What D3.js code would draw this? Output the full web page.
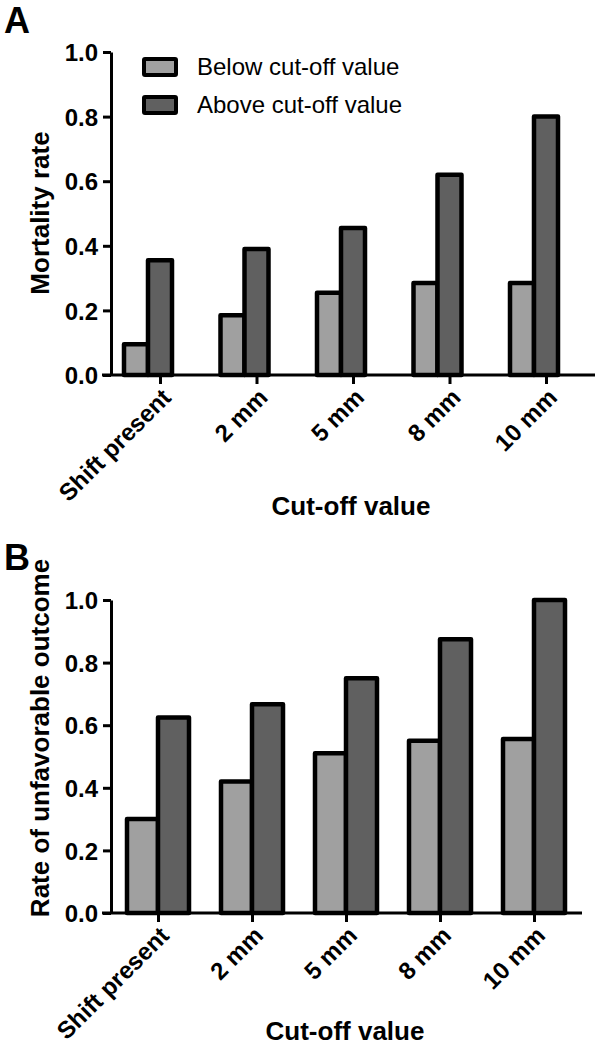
<!DOCTYPE html>
<html>
<head>
<meta charset="utf-8">
<script src="https://cdn.jsdelivr.net/npm/d3@7"></script>
<style>
  html, body { margin: 0; padding: 0; background: #fff; }
  svg { display: block; font-family: "Liberation Sans", Arial, sans-serif; }
</style>
</head>
<body>
<svg id="chart" width="600" height="1049"></svg>
<script>
// ---- data ----
const categories = ["Shift present", "2 mm", "5 mm", "8 mm", "10 mm"];
const seriesNames = ["Below cut-off value", "Above cut-off value"];
const mortalityBelow = [0.095, 0.185, 0.255, 0.285, 0.285];
const mortalityAbove = [0.355, 0.39, 0.455, 0.62, 0.80];
const unfavorableBelow = [0.30, 0.42, 0.51, 0.55, 0.556];
const unfavorableAbove = [0.625, 0.667, 0.75, 0.875, 1.0];
const yTicks = [0.0, 0.2, 0.4, 0.6, 0.8, 1.0];

const colors = ["#a0a0a0", "#606060"];
const svg = d3.select("#chart");

function panel(opts) {
  const g = svg.append("g");
  const x = d3.scalePoint().domain(categories).range([opts.x0, opts.x1]);
  const y = d3.scaleLinear().domain([0, 1]).range([opts.yBottom, opts.yTop]);

  // bars
  const series = [opts.below, opts.above];
  series.forEach((vals, si) => {
    g.selectAll(null).data(categories).enter().append("rect")
      .attr("x", d => x(d) + opts.offsets[si][0])
      .attr("width", opts.offsets[si][1] - opts.offsets[si][0])
      .attr("y", (d, i) => y(vals[i]))
      .attr("height", (d, i) => y(0) - y(vals[i]))
      .attr("fill", colors[si])
      .attr("stroke", "#000")
      .attr("stroke-width", 4.5)
      .attr("stroke-linejoin", "round");
  });

  // y axis
  const yAxis = g.append("g").attr("transform", `translate(${opts.yAxisX},0)`)
    .call(d3.axisLeft(y).tickValues(yTicks).tickFormat(d3.format(".1f")).tickSize(8).tickSizeOuter(0));
  yAxis.select(".domain").attr("stroke-width", 3);
  yAxis.selectAll(".tick line").attr("stroke-width", 3);
  yAxis.selectAll(".tick text").attr("font-size", 24).attr("font-weight", "bold")
    .attr("font-family", "Liberation Sans, Arial, sans-serif").attr("fill", "#000").attr("x", -13).attr("dy", "0.36em");

  // x axis
  const xAxis = g.append("g").attr("transform", `translate(0,${opts.yBottom})`)
    .call(d3.axisBottom(x).tickSize(9).tickSizeOuter(0));
  xAxis.select(".domain").remove();
  xAxis.append("line").attr("x1", opts.axisStart).attr("x2", opts.axisEnd)
    .attr("y1", 0).attr("y2", 0).attr("stroke", "#000").attr("stroke-width", 3);
  xAxis.selectAll(".tick line").attr("stroke-width", 3);
  xAxis.selectAll(".tick text")
    .attr("font-size", 24).attr("font-weight", "bold")
    .attr("font-family", "Liberation Sans, Arial, sans-serif").attr("fill", "#000")
    .attr("text-anchor", "end")
    .attr("dy", 0).attr("y", 0)
    .attr("transform", "translate(12,24) rotate(-45)");

  // titles
  g.append("text")
    .attr("transform", `translate(${opts.yTitleX},${opts.yTitleY}) rotate(-90)`)
    .attr("text-anchor", "middle").attr("font-size", 26).attr("font-weight", "bold")
    .text(opts.yTitle);
  g.append("text")
    .attr("x", opts.xTitleX).attr("y", opts.xTitleY)
    .attr("text-anchor", "middle").attr("font-size", 26).attr("font-weight", "bold")
    .text("Cut-off value");
  g.append("text")
    .attr("x", 4).attr("y", opts.letterY)
    .attr("font-size", 36).attr("font-weight", "bold")
    .text(opts.letter);
  return g;
}

panel({
  letter: "A", letterY: 33,
  below: mortalityBelow, above: mortalityAbove,
  x0: 160, x1: 546, yTop: 52, yBottom: 375, yAxisX: 111,
  axisStart: 102, axisEnd: 595,
  offsets: [[-36, -12], [-12, 12]],
  yTitle: "Mortality rate", yTitleX: 49, yTitleY: 213,
  xTitleX: 351, xTitleY: 515
});

panel({
  letter: "B", letterY: 570,
  below: unfavorableBelow, above: unfavorableAbove,
  x0: 158, x1: 534, yTop: 600, yBottom: 913, yAxisX: 111,
  axisStart: 102, axisEnd: 582,
  offsets: [[-31, 0], [0, 31]],
  yTitle: "Rate of unfavorable outcome", yTitleX: 49, yTitleY: 738,
  xTitleX: 345, xTitleY: 1040
});

// legend
const legend = svg.append("g");
seriesNames.forEach((name, i) => {
  const yy = 59 + i * 38;
  legend.append("rect").attr("x", 144).attr("y", yy).attr("width", 32).attr("height", 16)
    .attr("fill", colors[i]).attr("stroke", "#000").attr("stroke-width", 4).attr("rx", 1);
  legend.append("text").attr("x", 197).attr("y", yy + 16)
    .attr("font-size", 24).attr("fill", "#000").text(name);
});
</script>
</body>
</html>
